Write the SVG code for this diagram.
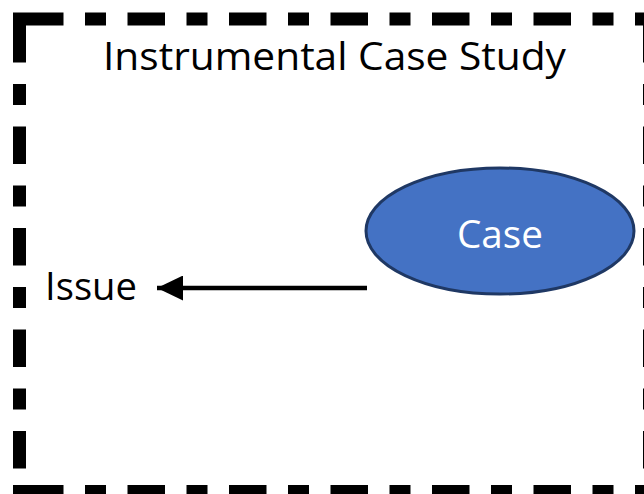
<svg xmlns="http://www.w3.org/2000/svg" width="644" height="494" viewBox="0 0 644 494">
<defs>
<style>
.frame{stroke:#000;stroke-width:13;fill:none;stroke-dasharray:37.5 21.5 21 21.5}
.lbl{font-family:"Open Sans","Lato","Liberation Sans",sans-serif;font-size:39px}
</style>
<marker id="ah" markerWidth="26" markerHeight="25" refX="26" refY="12.5" orient="auto" markerUnits="userSpaceOnUse">
<path d="M0,0 L26,12.5 L0,25 Z" fill="#000"/>
</marker>
</defs>
<rect width="644" height="494" fill="#fff"/>
<g id="frame">
<line class="frame" x1="26" y1="19" x2="660" y2="19"/>
<line class="frame" x1="26" y1="491.5" x2="660" y2="491.5"/>
<line class="frame" x1="19.5" y1="25" x2="19.5" y2="490"/>
<line class="frame" x1="649.5" y1="25" x2="649.5" y2="490"/>
<rect x="13" y="12.5" width="13" height="13" fill="#000"/>
<rect x="13" y="485" width="13" height="13" fill="#000"/>
<text class="lbl" x="103" y="70" textLength="463" lengthAdjust="spacingAndGlyphs">Instrumental Case Study</text>
</g>
<g id="case">
<ellipse cx="500" cy="231" rx="134" ry="63" fill="#4472C4" stroke="#1F3864" stroke-width="3"/>
<text class="lbl" x="500" y="248" text-anchor="middle" fill="#fff" textLength="86" lengthAdjust="spacingAndGlyphs">Case</text>
</g>
<g id="issue">
<text class="lbl" x="45" y="300" textLength="92" lengthAdjust="spacingAndGlyphs">Issue</text>
</g>
<g id="connectors">
<line x1="367" y1="288" x2="157" y2="288" stroke="#000" stroke-width="4.5" marker-end="url(#ah)"/>
</g>
</svg>
